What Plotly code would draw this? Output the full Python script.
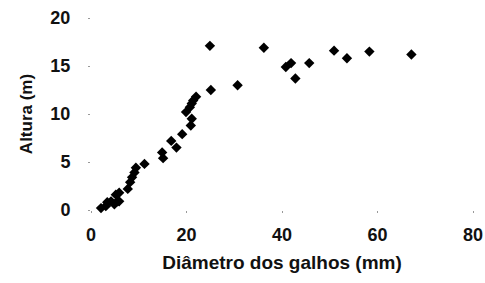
import plotly.graph_objects as go

diametro = [2.1, 3.1, 3.4, 4.2, 4.9, 5.2, 5.6, 5.9, 5.9, 7.7, 8.2, 8.6, 9.1, 9.4, 11.2,
            14.9, 15.1, 16.8, 17.9, 19.1, 19.9, 20.9, 21.1, 20.7, 21.1, 21.4, 22.0,
            24.9, 25.1, 30.7, 36.2, 40.8, 41.9, 42.8, 45.7, 50.9, 53.6, 58.3, 67.1]
altura = [0.2, 0.4, 0.8, 0.9, 0.6, 1.6, 0.9, 1.8, 0.9, 2.2, 2.9, 3.4, 3.9, 4.4, 4.8,
          6.0, 5.4, 7.2, 6.5, 7.9, 10.2, 8.8, 9.5, 10.7, 11.1, 11.4, 11.8,
          17.1, 12.5, 13.0, 16.9, 14.9, 15.3, 13.7, 15.3, 16.6, 15.8, 16.5, 16.2]

x_ticks = [0, 20, 40, 60, 80]
y_ticks = [0, 5, 10, 15, 20]

fig = go.Figure(go.Scatter(
    x=diametro, y=altura, mode="markers",
    marker=dict(symbol="diamond", size=8, color="black"),
    cliponaxis=False,
))

fam = "Liberation Sans, Arial, sans-serif"
tickfont = dict(family=fam, size=18, color="#111", weight="bold")
fig.update_layout(
    width=485, height=283,
    margin=dict(l=91, r=12, t=18, b=73, autoexpand=False),
    paper_bgcolor="white", plot_bgcolor="white",
    showlegend=False,
)
fig.update_xaxes(
    range=[0, 80], tickvals=x_ticks, showgrid=False, zeroline=False, showline=False,
    ticks="outside", ticklen=2, tickcolor="#999", ticklabelstandoff=6,
    tickfont=tickfont, automargin=False,
    title=dict(text="Diâmetro dos galhos (mm)", standoff=12,
               font=dict(family=fam, size=19, color="#111", weight="bold")),
)
fig.update_yaxes(
    range=[0, 20], tickvals=y_ticks, showgrid=False, zeroline=False, showline=False,
    ticks="outside", ticklen=2, tickcolor="#999", ticklabelstandoff=14,
    tickfont=tickfont, automargin=False,
    title=dict(text="Altura (m)", standoff=13,
               font=dict(family=fam, size=17, color="#111", weight="bold")),
)
fig.write_html(
    "out.html",
    config={"displayModeBar": False},
    post_script="document.body.style.margin='0';document.body.style.overflow='hidden';",
)
